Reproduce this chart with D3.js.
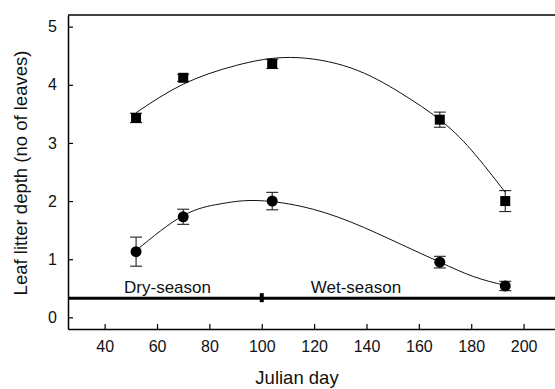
<!DOCTYPE html>
<html>
<head>
<meta charset="utf-8">
<script src="https://cdn.jsdelivr.net/npm/d3@7"></script>
<style>
  body { margin: 0; background: #fff; }
  svg { display: block; font-family: "Liberation Sans", Arial, Helvetica, sans-serif; }
  .tick text { font-size: 16px; fill: #111; }
</style>
</head>
<body>
<div id="vis1"></div>
<script>
// measured points (Julian day, mean, +/- error)
var days = [52, 70, 104, 168, 193];
var upperMean = [3.43, 4.12, 4.36, 3.40, 2.00];
var upperErr = [0.08, 0.06, 0.08, 0.13, 0.18];
var lowerMean = [1.13, 1.73, 2.00, 0.95, 0.54];
var lowerErr = [0.25, 0.13, 0.15, 0.10, 0.08];

// fitted curves
var upperCurve = [[52, 3.52], [70, 4.01], [90, 4.33], [111, 4.47], [134, 4.29],
                  [153, 3.86], [168, 3.40], [180, 2.88], [193, 2.15]];
var lowerCurve = [[52, 1.15], [70, 1.75], [84, 1.95], [97, 2.01], [115, 1.91],
                  [134, 1.64], [153, 1.26], [168, 0.95], [181, 0.70], [193, 0.55]];

// season divider
var seasonLevel = 0.33;
var seasonSplit = 100;
var seasonLabels = [["Dry-season", 64], ["Wet-season", 136]];

var xTicks = [40, 60, 80, 100, 120, 140, 160, 180, 200];
var yTicks = [0, 1, 2, 3, 4, 5];

var width = 555, height = 389;
var margin = {left: 68, top: 15, bottom: 329};

var svg = d3.select("#vis1").append("svg")
    .attr("width", width)
    .attr("height", height);

var xScale = d3.scaleLinear().domain([26, 212]).range([margin.left, width]);
var yScale = d3.scaleLinear().domain([-0.2, 5.2]).range([margin.bottom, margin.top]);

// axes (ticks point inward)
svg.append("g")
    .attr("transform", "translate(0," + margin.bottom + ")")
    .call(d3.axisBottom(xScale).tickValues(xTicks).tickFormat(d3.format("d"))
        .tickSizeInner(-5).tickSizeOuter(0).tickPadding(12))
    .call(function(g) {
        g.select(".domain").attr("stroke-width", 1.5);
        g.selectAll(".tick line").attr("stroke-width", 1.2);
    });

svg.append("g")
    .attr("transform", "translate(" + margin.left + ",0)")
    .call(d3.axisLeft(yScale).tickValues(yTicks).tickFormat(d3.format("d"))
        .tickSizeInner(-5).tickSizeOuter(0).tickPadding(11))
    .call(function(g) {
        g.select(".domain").attr("stroke-width", 1.5);
        g.selectAll(".tick line").attr("stroke-width", 1.2);
    });

// top frame line
svg.append("line")
    .attr("x1", margin.left).attr("x2", width)
    .attr("y1", yScale(5.2)).attr("y2", yScale(5.2))
    .attr("stroke", "#000").attr("stroke-width", 1.5);

// season line
svg.append("line")
    .attr("x1", margin.left).attr("x2", width)
    .attr("y1", yScale(seasonLevel)).attr("y2", yScale(seasonLevel))
    .attr("stroke", "#000").attr("stroke-width", 3);

svg.append("rect")
    .attr("x", xScale(seasonSplit) - 2)
    .attr("y", yScale(seasonLevel) - 5)
    .attr("width", 4).attr("height", 9)
    .attr("fill", "#000");

svg.selectAll(".season")
    .data(seasonLabels)
    .enter().append("text")
    .attr("class", "season")
    .attr("x", function(d) { return xScale(d[1]); })
    .attr("y", yScale(seasonLevel) - 5)
    .attr("text-anchor", "middle")
    .attr("font-size", 17)
    .attr("fill", "#111")
    .text(function(d) { return d[0]; });

// curves
var line = d3.line()
    .x(function(d) { return xScale(d[0]); })
    .y(function(d) { return yScale(d[1]); })
    .curve(d3.curveNatural);

[upperCurve, lowerCurve].forEach(function(c) {
    svg.append("path")
        .datum(c)
        .attr("d", line)
        .attr("fill", "none")
        .attr("stroke", "#111")
        .attr("stroke-width", 1);
});

// error bars
function errorBars(means, errs) {
    var g = svg.append("g").attr("stroke", "#222").attr("stroke-width", 1.1);
    days.forEach(function(d, i) {
        var x = xScale(d), y1 = yScale(means[i] + errs[i]), y2 = yScale(means[i] - errs[i]);
        g.append("line").attr("x1", x).attr("x2", x).attr("y1", y1).attr("y2", y2);
        g.append("line").attr("x1", x - 6).attr("x2", x + 6).attr("y1", y1).attr("y2", y1);
        g.append("line").attr("x1", x - 6).attr("x2", x + 6).attr("y1", y2).attr("y2", y2);
    });
}
errorBars(upperMean, upperErr);
errorBars(lowerMean, lowerErr);

// markers
svg.selectAll(".sq")
    .data(days)
    .enter().append("rect")
    .attr("class", "sq")
    .attr("x", function(d) { return xScale(d) - 5; })
    .attr("y", function(d, i) { return yScale(upperMean[i]) - 5; })
    .attr("width", 10).attr("height", 10)
    .attr("fill", "#000");

svg.selectAll(".dot")
    .data(days)
    .enter().append("circle")
    .attr("class", "dot")
    .attr("cx", function(d) { return xScale(d); })
    .attr("cy", function(d, i) { return yScale(lowerMean[i]); })
    .attr("r", 5.5)
    .attr("fill", "#000");

// axis labels
svg.append("text")
    .attr("x", 297)
    .attr("y", 384)
    .attr("text-anchor", "middle")
    .attr("font-size", 18.5)
    .attr("fill", "#111")
    .text("Julian day");

svg.append("text")
    .attr("transform", "translate(27,173) rotate(-90)")
    .attr("text-anchor", "middle")
    .attr("font-size", 18.5)
    .attr("fill", "#111")
    .text("Leaf litter depth (no of leaves)");
</script>
</body>
</html>
